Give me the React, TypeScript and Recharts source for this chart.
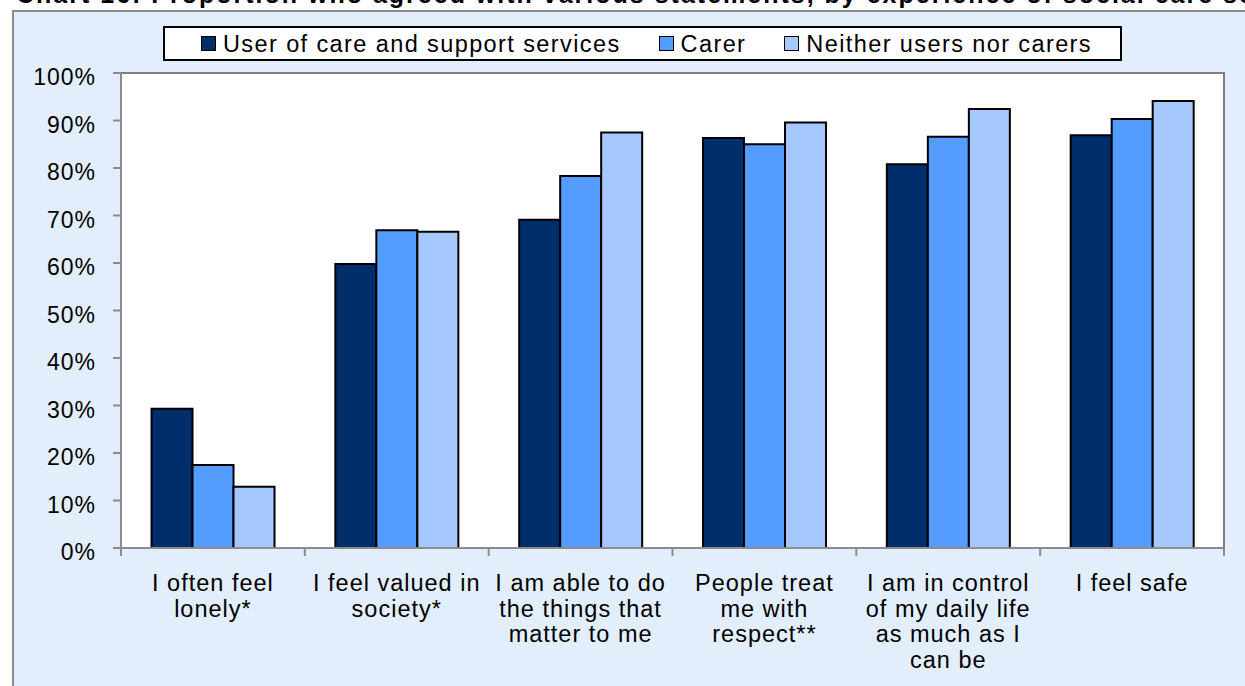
import React from 'react';
import { BarChart, Bar, XAxis, YAxis, CartesianGrid, Legend, ReferenceArea } from 'recharts';

const categories = [
  'I often feel lonely*',
  'I feel valued in society*',
  'I am able to do the things that matter to me',
  'People treat me with respect**',
  'I am in control of my daily life as much as I can be',
  'I feel safe',
];
// how Excel wrapped the category labels
const labelLines = [
  ['I often feel', 'lonely*'],
  ['I feel valued in', 'society*'],
  ['I am able to do', 'the things that', 'matter to me'],
  ['People treat', 'me with', 'respect**'],
  ['I am in control', 'of my daily life', 'as much as I', 'can be'],
  ['I feel safe'],
];
const userValues = [29.3, 59.8, 69.1, 86.3, 80.8, 86.9];
const carerValues = [17.5, 66.9, 78.3, 85.0, 86.6, 90.3];
const neitherValues = [12.9, 66.6, 87.5, 89.6, 92.4, 94.1];
const yTicks = [0, 10, 20, 30, 40, 50, 60, 70, 80, 90, 100];

const seriesNames = ['User of care and support services', 'Carer', 'Neither users nor carers'];
const seriesColors = ['#002E6B', '#559CFF', '#A5C9FF'];

const W = 1245;
const H = 686;
const LEFT = 121;
const RIGHT = 21;
const TOP = 73;
const BOTTOM = 548;
const band = (W - LEFT - RIGHT) / categories.length;
const font = '"Liberation Sans", Arial, sans-serif';

const data = categories.map((c, i) => ({
  name: c,
  user: userValues[i],
  carer: carerValues[i],
  neither: neitherValues[i],
}));

function YTick({ x, y, payload }: any) {
  return (
    <text x={x} y={y} dy={12} textAnchor="end" fontSize={23} fontFamily={font} fill="#000" letterSpacing={1}>
      {payload.value}%
    </text>
  );
}

function XTick({ x, payload, index }: any) {
  const lines = labelLines[index] || [payload.value];
  const last = index === categories.length - 1;
  return (
    <g>
      <line x1={x - band / 2} x2={x - band / 2} y1={BOTTOM} y2={BOTTOM + 8} stroke="#8c8c8c" strokeWidth={2} />
      {last && <line x1={x + band / 2} x2={x + band / 2} y1={BOTTOM} y2={BOTTOM + 8} stroke="#8c8c8c" strokeWidth={2} />}
      <text textAnchor="middle" fontSize={23.5} fontFamily={font} fill="#000" letterSpacing={1}>
        {lines.map((l, i) => (
          <tspan key={i} x={x} y={BOTTOM + 43 + i * 25.7}>{l}</tspan>
        ))}
      </text>
    </g>
  );
}

function LegendBox() {
  return (
    <div style={{
      boxSizing: 'border-box', width: 959, height: 35, border: '2px solid #000', background: '#fff',
      display: 'flex', alignItems: 'center', paddingLeft: 36, fontFamily: font, fontSize: 23.5, letterSpacing: 1.4,
    }}>
      {seriesNames.map((n, i) => (
        <div key={n} style={{ display: 'flex', alignItems: 'center', marginRight: 38 }}>
          <span style={{ boxSizing: 'border-box', width: 15, height: 15, background: seriesColors[i], border: '1.5px solid #000', marginRight: 7 }} />
          <span style={{ lineHeight: '30px', whiteSpace: 'nowrap' }}>{n}</span>
        </div>
      ))}
    </div>
  );
}

export default function App() {
  return (
    <div style={{ position: 'absolute', left: 0, top: 0, width: W, height: H, overflow: 'hidden', background: '#fff' }}>
      <div style={{
        position: 'absolute', left: 12, top: 10, width: W, height: H,
        background: '#E2EEFC', borderLeft: '2px solid #8c8c8c', borderTop: '2px solid #8c8c8c',
      }} />
      <div style={{
        position: 'absolute', left: 16, top: -20, whiteSpace: 'nowrap', fontFamily: font,
        fontWeight: 'bold', fontSize: 25, letterSpacing: 2, color: '#000',
      }}>
        Chart 16: Proportion who agreed with various statements, by experience of social care services
      </div>
      <div style={{ position: 'absolute', left: 0, top: 0 }}>
        <BarChart
          width={W}
          height={H}
          data={data}
          margin={{ top: TOP, right: RIGHT, left: 0, bottom: 0 }}
          barCategoryGap="16.6%"
          barGap={0}
        >
          <CartesianGrid vertical={false} stroke="#c0c0c0" strokeWidth={2} fill="#fff" />
          <ReferenceArea yAxisId="left" y1={0} y2={100} fill="none" stroke="#808080" strokeWidth={2} />
          <XAxis
            dataKey="name"
            height={H - BOTTOM}
            tickLine={false}
            axisLine={{ stroke: '#8c8c8c', strokeWidth: 2 }}
            tick={<XTick />}
            interval={0}
          />
          <YAxis
            yAxisId="left"
            width={LEFT}
            domain={[0, 100]}
            ticks={yTicks}
            tickSize={8}
            tickMargin={17}
            tickLine={{ stroke: '#8c8c8c', strokeWidth: 2 }}
            axisLine={{ stroke: '#8c8c8c', strokeWidth: 2 }}
            tick={<YTick />}
            interval={0}
          />
          <Legend
            verticalAlign="middle"
            align="center"
            layout="horizontal"
            wrapperStyle={{ top: 26, left: 163, width: 959, height: 35 }}
            content={() => <LegendBox />}
          />
          <Bar yAxisId="left" dataKey="user" name={seriesNames[0]} fill={seriesColors[0]} stroke="#000" strokeWidth={2} isAnimationActive={false} />
          <Bar yAxisId="left" dataKey="carer" name={seriesNames[1]} fill={seriesColors[1]} stroke="#000" strokeWidth={2} isAnimationActive={false} />
          <Bar yAxisId="left" dataKey="neither" name={seriesNames[2]} fill={seriesColors[2]} stroke="#000" strokeWidth={2} isAnimationActive={false} />
        </BarChart>
      </div>
    </div>
  );
}
